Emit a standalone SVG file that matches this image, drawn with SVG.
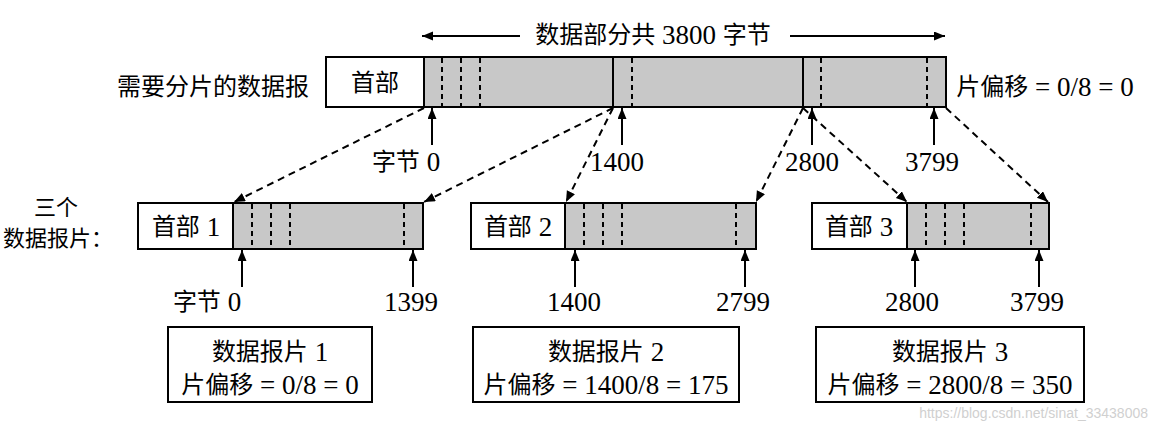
<svg xmlns="http://www.w3.org/2000/svg" width="1156" height="434" viewBox="0 0 1156 434">
<defs>
<marker id="ah" markerUnits="userSpaceOnUse" markerWidth="12" markerHeight="10" refX="11" refY="4.5" orient="auto">
<path d="M0,0 L11,4.5 L0,9 z" fill="#000"/>
</marker>
<style>
.t{font-family:"Liberation Serif","Noto Sans CJK SC",serif;font-size:24px;fill:#000;text-anchor:middle;dominant-baseline:central}
.n{font-size:27px}
.box{fill:#fff;stroke:#000;stroke-width:2}
.gray{fill:#c8c8c8;stroke:#000;stroke-width:2}
.dv{stroke:#000;stroke-width:2;stroke-dasharray:5,4}
.sv{stroke:#000;stroke-width:2}
.dc{stroke:#000;stroke-width:2;stroke-dasharray:7,5;fill:none;marker-end:url(#ah)}
.up{stroke:#000;stroke-width:2;fill:none;marker-end:url(#ah)}
</style>
</defs>
<rect width="1156" height="434" fill="#fff"/>

<g id="title">
<line class="up" x1="520" y1="36" x2="422" y2="36"/>
<line class="up" x1="790" y1="36" x2="945" y2="36"/>
<text class="t" x="653" y="35">数据部分共<tspan class="n"> 3800 </tspan>字节</text>
</g>

<g id="original">
<text class="t" x="213" y="87">需要分片的数据报</text>
<rect class="gray" x="424" y="57" width="522" height="50"/>
<rect class="box" x="326" y="57" width="98" height="50"/>
<text class="t" x="375" y="83">首部</text>
<line class="dv" x1="442" y1="58" x2="442" y2="106"/>
<line class="dv" x1="461" y1="58" x2="461" y2="106"/>
<line class="dv" x1="480" y1="58" x2="480" y2="106"/>
<line class="sv" x1="613" y1="58" x2="613" y2="106"/>
<line class="dv" x1="632" y1="58" x2="632" y2="106"/>
<line class="sv" x1="803" y1="58" x2="803" y2="106"/>
<line class="dv" x1="821" y1="58" x2="821" y2="106"/>
<line class="dv" x1="927" y1="58" x2="927" y2="106"/>
<text class="t" x="1045" y="87">片偏移<tspan class="n"> = 0/8 = 0</tspan></text>
<line class="up" x1="432" y1="145" x2="432" y2="108"/>
<line class="up" x1="622" y1="145" x2="622" y2="108"/>
<line class="up" x1="812" y1="145" x2="812" y2="108"/>
<line class="up" x1="934" y1="145" x2="934" y2="108"/>
<text class="t" x="406" y="162">字节<tspan class="n"> 0</tspan></text>
<text class="t n" x="617" y="162">1400</text>
<text class="t n" x="812" y="162">2800</text>
<text class="t n" x="932" y="162">3799</text>
</g>

<g id="label-three">
<text class="t" x="56" y="207" style="font-size:22px">三个</text>
<text class="t" x="58" y="238" style="font-size:22px">数据报片：</text>
</g>

<g id="fragment1">
<rect class="gray" x="233" y="203" width="190" height="46"/>
<rect class="box" x="138" y="203" width="95" height="46"/>
<text class="t" x="186" y="227">首部<tspan class="n"> 1</tspan></text>
<line class="dv" x1="252" y1="204" x2="252" y2="248"/>
<line class="dv" x1="271" y1="204" x2="271" y2="248"/>
<line class="dv" x1="290" y1="204" x2="290" y2="248"/>
<line class="dv" x1="404" y1="204" x2="404" y2="248"/>
<line class="up" x1="242" y1="287" x2="242" y2="250"/>
<line class="up" x1="413" y1="287" x2="413" y2="250"/>
<text class="t" x="207" y="302">字节<tspan class="n"> 0</tspan></text>
<text class="t n" x="411" y="302">1399</text>
</g>

<g id="fragment2">
<rect class="gray" x="565" y="203" width="191" height="46"/>
<rect class="box" x="471" y="203" width="94" height="46"/>
<text class="t" x="518" y="227">首部<tspan class="n"> 2</tspan></text>
<line class="dv" x1="584" y1="204" x2="584" y2="248"/>
<line class="dv" x1="603" y1="204" x2="603" y2="248"/>
<line class="dv" x1="622" y1="204" x2="622" y2="248"/>
<line class="dv" x1="736" y1="204" x2="736" y2="248"/>
<line class="up" x1="575" y1="287" x2="575" y2="250"/>
<line class="up" x1="745" y1="287" x2="745" y2="250"/>
<text class="t n" x="574" y="302">1400</text>
<text class="t n" x="743" y="302">2799</text>
</g>

<g id="fragment3">
<rect class="gray" x="907" y="203" width="142" height="46"/>
<rect class="box" x="812" y="203" width="95" height="46"/>
<text class="t" x="859" y="227">首部<tspan class="n"> 3</tspan></text>
<line class="dv" x1="926" y1="204" x2="926" y2="248"/>
<line class="dv" x1="945" y1="204" x2="945" y2="248"/>
<line class="dv" x1="964" y1="204" x2="964" y2="248"/>
<line class="dv" x1="1031" y1="204" x2="1031" y2="248"/>
<line class="up" x1="915" y1="287" x2="915" y2="250"/>
<line class="up" x1="1039" y1="287" x2="1039" y2="250"/>
<text class="t n" x="912" y="302">2800</text>
<text class="t n" x="1037" y="302">3799</text>
</g>

<g id="connectors">
<line class="dc" x1="424" y1="108" x2="234" y2="202"/>
<line class="dc" x1="613" y1="108" x2="424" y2="202"/>
<line class="dc" x1="613" y1="108" x2="566" y2="202"/>
<line class="dc" x1="803" y1="108" x2="756" y2="202"/>
<line class="dc" x1="803" y1="108" x2="907" y2="202"/>
<line class="dc" x1="946" y1="108" x2="1048" y2="202"/>
</g>

<g id="info1">
<rect class="box" x="168" y="327" width="204" height="75"/>
<text class="t" x="270" y="352">数据报片<tspan class="n"> 1</tspan></text>
<text class="t" x="270" y="385">片偏移<tspan class="n"> = 0/8 = 0</tspan></text>
</g>
<g id="info2">
<rect class="box" x="473" y="327" width="266" height="75"/>
<text class="t" x="606" y="352">数据报片<tspan class="n"> 2</tspan></text>
<text class="t" x="606" y="385">片偏移<tspan class="n"> = 1400/8 = 175</tspan></text>
</g>
<g id="info3">
<rect class="box" x="816" y="327" width="268" height="75"/>
<text class="t" x="950" y="352">数据报片<tspan class="n"> 3</tspan></text>
<text class="t" x="950" y="385">片偏移<tspan class="n"> = 2800/8 = 350</tspan></text>
</g>

<text x="1148" y="418" font-family="Liberation Sans, sans-serif" font-size="14" fill="#d0d0d0" text-anchor="end">https://blog.csdn.net/sinat_33438008</text>
</svg>
